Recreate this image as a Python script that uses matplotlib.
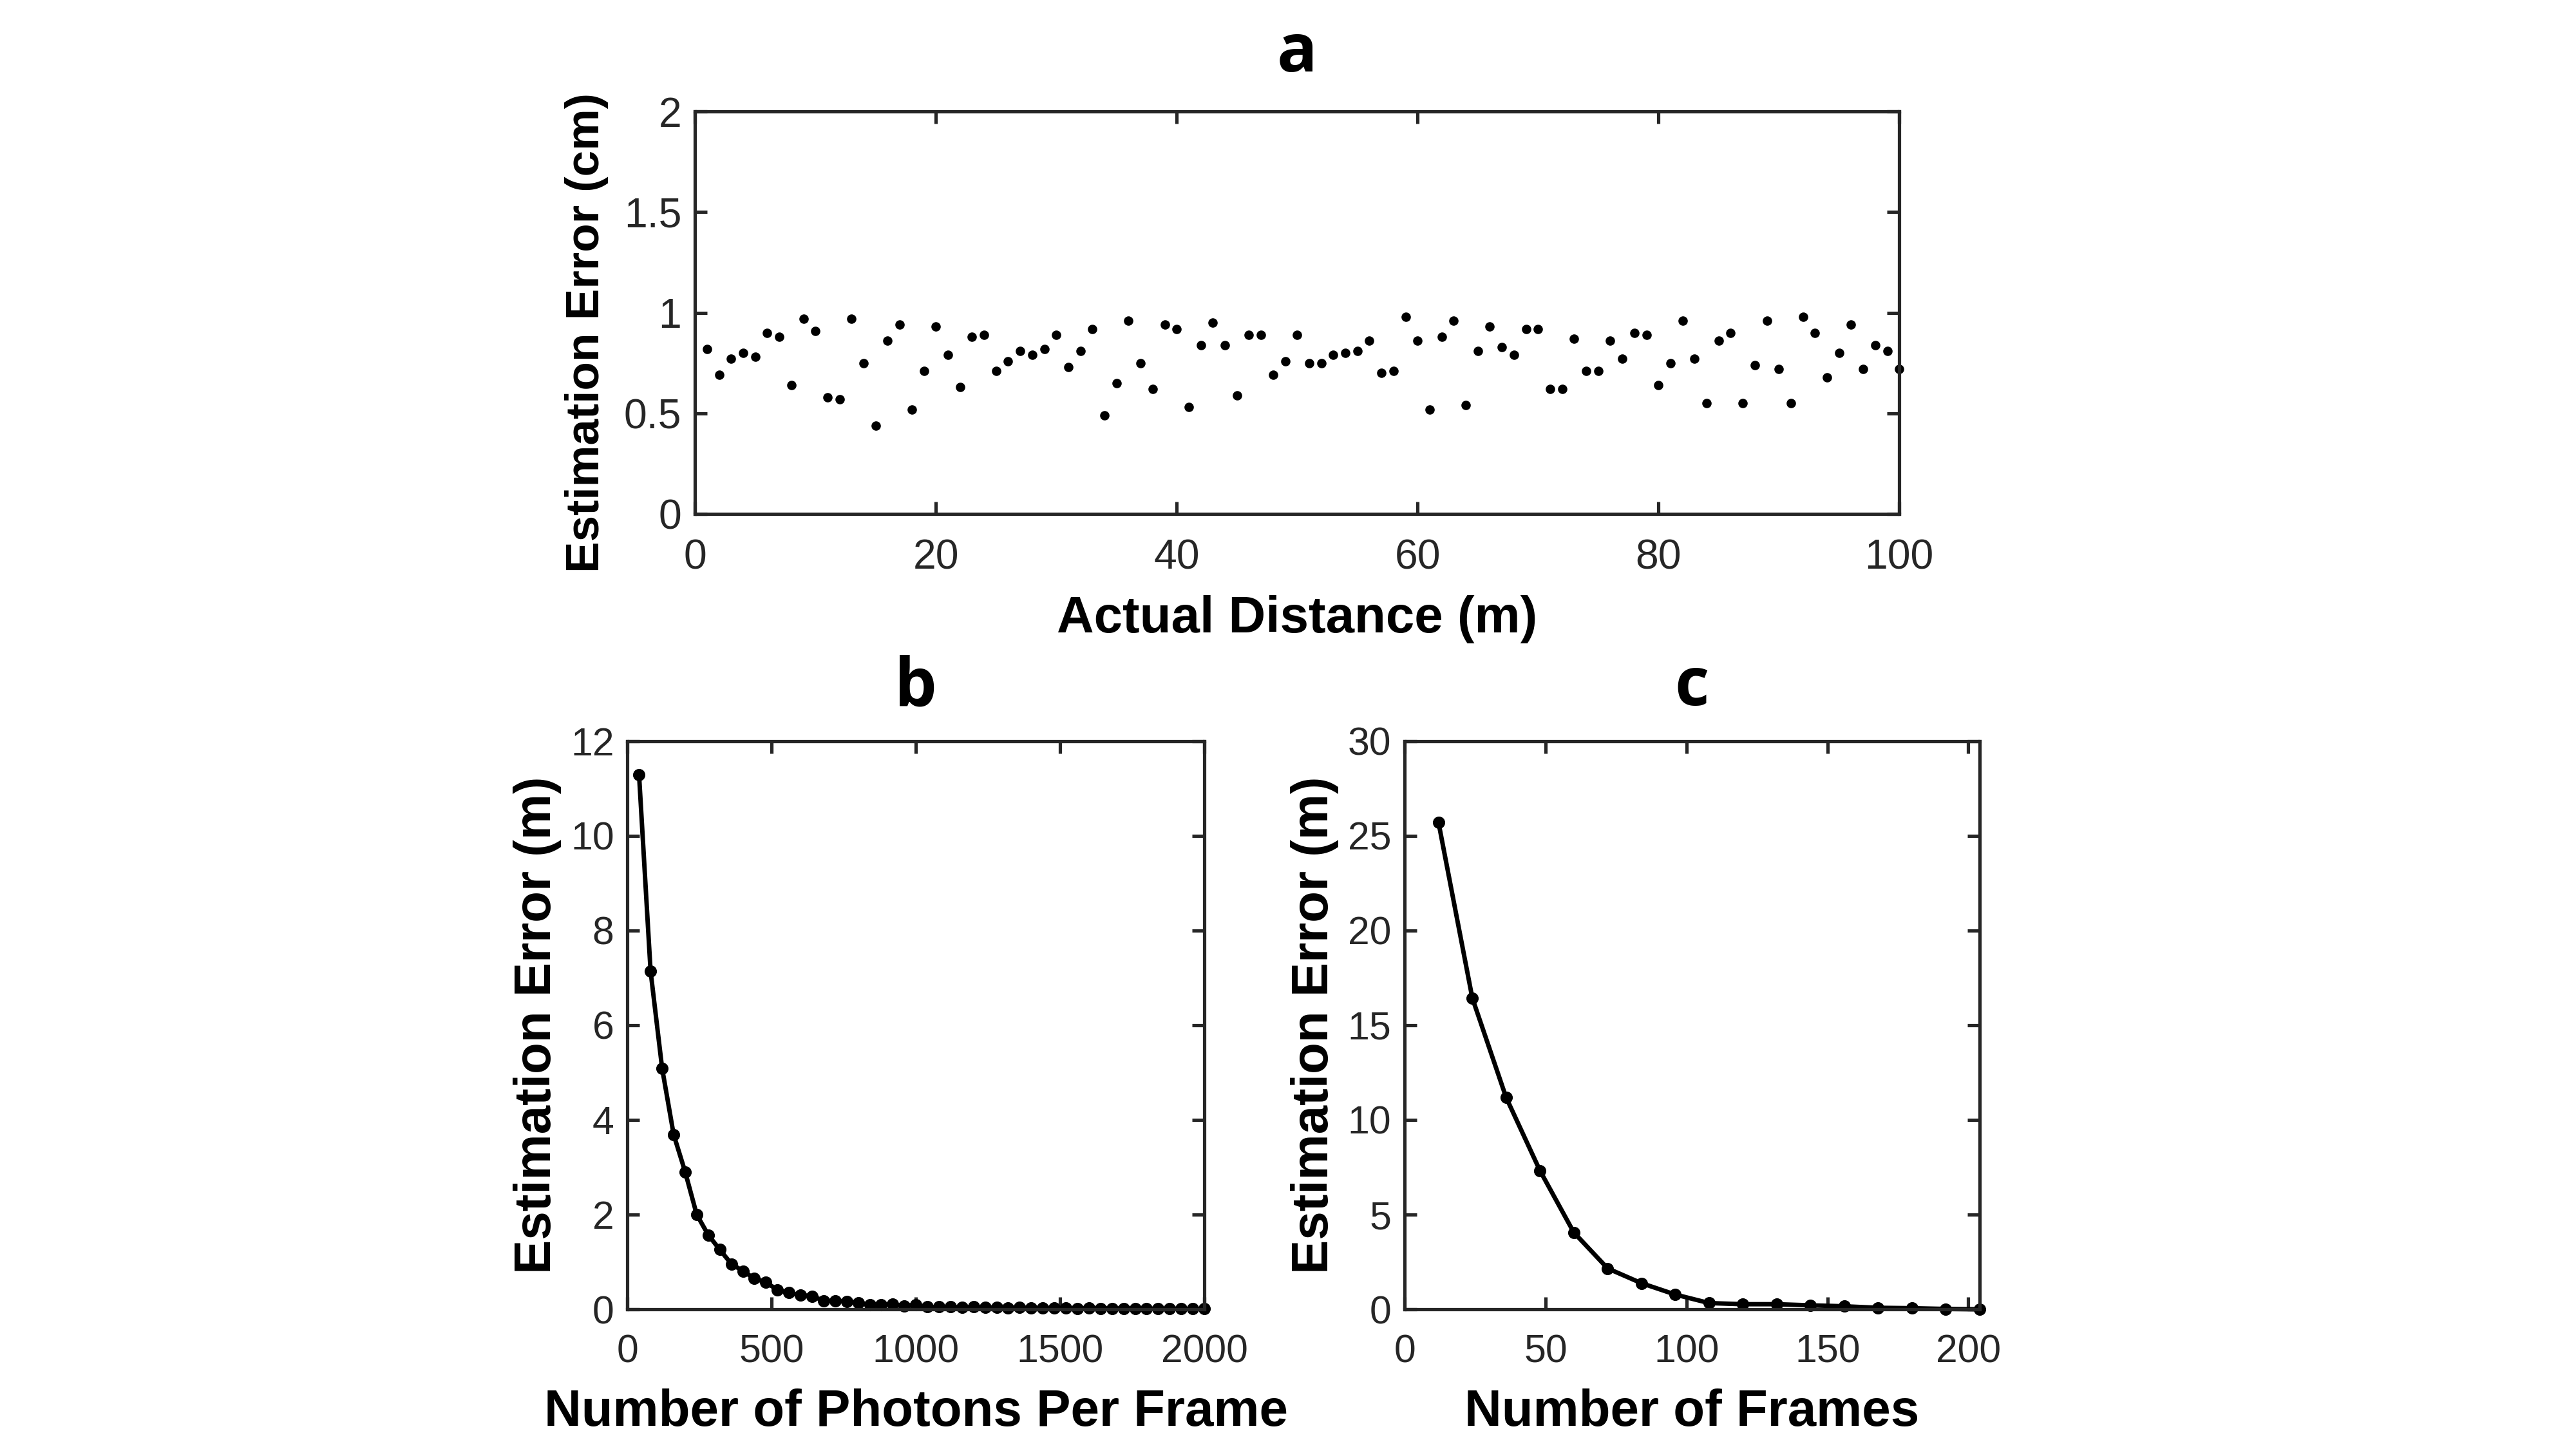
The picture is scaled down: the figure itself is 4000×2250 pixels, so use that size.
import matplotlib
matplotlib.use('Agg')
import matplotlib.pyplot as plt
import numpy as np

from matplotlib import rcParams
rcParams['font.family'] = ['Liberation Sans', 'DejaVu Sans']
rcParams['axes.linewidth'] = 1.5
rcParams['axes.edgecolor'] = '#262626'
rcParams['xtick.color'] = '#262626'
rcParams['ytick.color'] = '#262626'
rcParams['text.color'] = '#262626'

# panel a: estimation error vs actual distance
distance_m = np.arange(1, 101)
error_cm = [0.82, 0.69, 0.77, 0.80, 0.78, 0.90, 0.88, 0.64, 0.97, 0.91,
            0.58, 0.57, 0.97, 0.75, 0.44, 0.86, 0.94, 0.52, 0.71, 0.93,
            0.79, 0.63, 0.88, 0.89, 0.71, 0.76, 0.81, 0.79, 0.82, 0.89,
            0.73, 0.81, 0.92, 0.49, 0.65, 0.96, 0.75, 0.62, 0.94, 0.92,
            0.53, 0.84, 0.95, 0.84, 0.59, 0.89, 0.89, 0.69, 0.76, 0.89,
            0.75, 0.75, 0.79, 0.80, 0.81, 0.86, 0.70, 0.71, 0.98, 0.86,
            0.52, 0.88, 0.96, 0.54, 0.81, 0.93, 0.83, 0.79, 0.92, 0.92,
            0.62, 0.62, 0.87, 0.71, 0.71, 0.86, 0.77, 0.90, 0.89, 0.64,
            0.75, 0.96, 0.77, 0.55, 0.86, 0.90, 0.55, 0.74, 0.96, 0.72,
            0.55, 0.98, 0.90, 0.68, 0.80, 0.94, 0.72, 0.84, 0.81, 0.72]

# panel b: estimation error vs photons per frame
photons = np.arange(40, 2001, 40)
error_photons = [11.29, 7.14, 5.09, 3.69, 2.90, 2.00, 1.57, 1.26, 0.96, 0.81,
                 0.65, 0.57, 0.41, 0.35, 0.30, 0.28, 0.18, 0.18, 0.17, 0.14,
                 0.10, 0.10, 0.11, 0.07, 0.10, 0.05, 0.05, 0.05, 0.04, 0.05,
                 0.04, 0.04, 0.03, 0.04, 0.03, 0.03, 0.03, 0.03, 0.02, 0.03,
                 0.02, 0.02, 0.02, 0.02, 0.02, 0.01, 0.02, 0.01, 0.01, 0.01]

# panel c: estimation error vs number of frames
frames = np.arange(12, 205, 12)
error_frames = [25.7, 16.43, 11.18, 7.32, 4.06, 2.16, 1.38, 0.78, 0.33,
                0.27, 0.27, 0.21, 0.16, 0.08, 0.06, 0.02, 0.0]

label_size = 23


def style_axes(ax, tick_size):
    ax.tick_params(direction='in', length=5.5, width=1.5, top=True, right=True,
                   labelsize=tick_size)
    ax.tick_params(axis='x', pad=11)
    ax.tick_params(axis='y', pad=6)


fig = plt.figure(figsize=(16, 9), dpi=250)

ax_a = fig.add_axes([0.2698, 0.6453, 0.4675, 0.2778])
ax_a.plot(distance_m, error_cm, 'o', color='k', markersize=3.2, clip_on=False)
ax_a.set_xlim(0, 100)
ax_a.set_ylim(0, 2)
ax_a.set_xticks([0, 20, 40, 60, 80, 100])
ax_a.set_yticks([0, 0.5, 1, 1.5, 2])
ax_a.set_yticklabels(['0', '0.5', '1', '1.5', '2'])
style_axes(ax_a, 18.5)
ax_a.set_xlabel('Actual Distance (m)', fontsize=label_size, fontweight='bold', labelpad=8)
ax_a.set_ylabel('Estimation Error (cm)', fontsize=21, fontweight='bold')
ax_a.yaxis.set_label_coords(-0.072, 0.45)
ax_a.set_title('a', fontsize=30, fontweight='bold', family=['Open Sans', 'DejaVu Sans'],
               color='black', pad=18)

ax_b = fig.add_axes([0.2436, 0.0964, 0.2239, 0.3922])
ax_b.plot(photons, error_photons, '-o', color='k', linewidth=2, markersize=4.5, clip_on=False)
ax_b.set_xlim(0, 2000)
ax_b.set_ylim(0, 12)
ax_b.set_xticks([0, 500, 1000, 1500, 2000])
ax_b.set_yticks(range(0, 13, 2))
style_axes(ax_b, 17.5)
ax_b.set_xlabel('Number of Photons Per Frame', fontsize=label_size, fontweight='bold', labelpad=8)
ax_b.set_ylabel('Estimation Error (m)', fontsize=label_size, fontweight='bold', labelpad=4)
ax_b.set_title('b', fontsize=30, fontweight='bold', family=['Open Sans', 'DejaVu Sans'],
               color='black', pad=16)

ax_c = fig.add_axes([0.5453, 0.0964, 0.2232, 0.3922])
ax_c.plot(frames, error_frames, '-o', color='k', linewidth=2, markersize=4.5, clip_on=False)
ax_c.set_xlim(0, 204)
ax_c.set_ylim(0, 30)
ax_c.set_xticks([0, 50, 100, 150, 200])
ax_c.set_yticks(range(0, 31, 5))
style_axes(ax_c, 17.5)
ax_c.set_xlabel('Number of Frames', fontsize=label_size, fontweight='bold', labelpad=8)
ax_c.set_ylabel('Estimation Error (m)', fontsize=label_size, fontweight='bold', labelpad=4)
ax_c.set_title('c', fontsize=30, fontweight='bold', family=['Open Sans', 'DejaVu Sans'],
               color='black', pad=16)

fig.savefig('out.png', dpi=250, facecolor='white')
